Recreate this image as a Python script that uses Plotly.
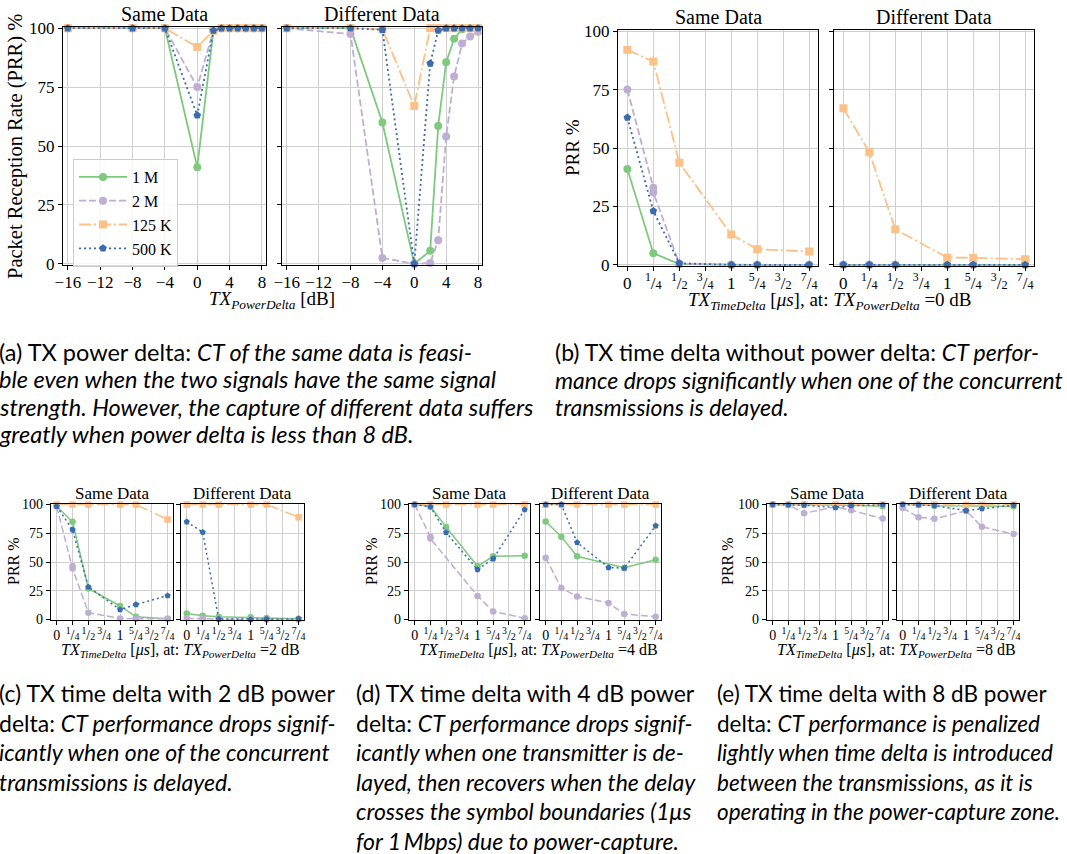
import plotly.graph_objects as go

W, H = 1067, 854

# ---------------- data ----------------
series_names = ["1 M", "2 M", "125 K", "500 K"]
colors = ["#7fc97f", "#beaed4", "#fdc086", "#386cb0"]
dashes = ["solid", "7px,3px", "12px,3px,2px,3px", "2px,3px"]
symbols = ["circle", "circle", "square", "pentagon"]

power_delta = [-16, -8, -4, 0, 2, 3, 4, 5, 6, 7, 8]
power_ticks = [-16, -12, -8, -4, 0, 4, 8]
power_ticktext = ["\u221216", "\u221212", "\u22128", "\u22124", "0", "4", "8"]

time_ticks = [0, 0.25, 0.5, 0.75, 1, 1.25, 1.5, 1.75]
time_fractions = [None, ("1", "4"), ("1", "2"), ("3", "4"), None, ("5", "4"), ("3", "2"), ("7", "4")]
time_plain = ["0", "", "", "", "1", "", "", ""]
prr_ticks = [0, 25, 50, 75, 100]

time_delta = [0, 0.25, 0.5, 1, 1.25, 1.75]
time_delta_2m = [0, 0.25, 0.25, 0.5, 1, 1.25, 1.75]
time_delta_2m_d = [0, 0.25, 0.25, 1, 1.25, 1.75]
time_delta_1m_d2 = [0, 0.25, 0.5, 1.25, 1.75]

# (a) power delta
a_same_1m = [100, 100, 100, 41, 99, 100, 100, 100, 100, 100, 100]
a_same_2m = [100, 100, 100, 75, 99, 100, 100, 100, 100, 100, 100]
a_same_125k = [100, 100, 100, 92, 99, 100, 100, 100, 100, 100, 100]
a_same_500k = [100, 100, 100, 63, 99, 100, 100, 100, 100, 100, 100]
a_diff_1m = [100, 100, 60, 0, 5.5, 58.5, 85.5, 95.5, 99.5, 100, 100]
a_diff_2m = [100, 97.5, 2.5, 0, 0.3, 10, 54, 79.5, 93.5, 96.5, 98.5]
a_diff_125k = [100, 100, 99.5, 67, 100, 100, 100, 100, 100, 100, 100]
a_diff_500k = [100, 100, 99.3, 0, 85, 99, 100, 100, 100, 100, 100]

# (b) time delta, 0 dB
b_same_1m = [41, 5, 0.3, 0, 0, 0]
b_same_2m = [75, 33, 31, 0.5, 0, 0, 0]
b_same_125k = [92, 87, 43.7, 13, 6.7, 5.7]
b_same_500k = [63, 23, 0.7, 0, 0, 0]
b_diff_1m = [0, 0, 0, 0, 0, 0]
b_diff_2m = [0, 0, 0, 0, 0, 0, 0]
b_diff_125k = [67, 48.2, 15.2, 3.1, 3, 2.4]
b_diff_500k = [0, 0, 0, 0, 0, 0]

# (c) time delta, 2 dB
c_same_1m = [98.5, 85, 27, 11.7, 2.3, 0.5]
c_same_2m = [98.5, 46.6, 44.3, 5.8, 0.9, 0.5, 0.5]
c_same_125k = [100, 100, 100, 100, 100, 87]
c_same_500k = [98.5, 78, 28.3, 8.5, 13, 20.7]
c_diff_1m = [5.2, 3.2, 2.3, 2, 1.2, 0.5]
c_diff_2m = [1, 0.5, 0.5, 0.3, 0, 0, 0]
c_diff_125k = [100, 100, 100, 100, 100, 89]
c_diff_500k = [85, 76, 0.3, 0, 0.3, 0.5]

# (d) time delta, 4 dB
d_same_1m = [100, 98.5, 80.4, 46.3, 55, 55.4]
d_same_2m = [100, 72, 70.4, 20.5, 7, 1]
d_same_125k = [100, 100, 100, 100, 100, 100]
d_same_500k = [100, 98, 75.7, 43.4, 52.8, 95.6]
d_diff_1m = [85.3, 72, 55, 45, 51.9]
d_diff_2m = [53.7, 27.3, 20, 14.4, 4.7, 2.3]
d_diff_125k = [100, 100, 100, 100, 100, 100]
d_diff_500k = [100, 100, 67, 45.2, 44.6, 81.5]

# (e) time delta, 8 dB
e_same_1m = [100, 100, 100, 99.5, 99.5, 98.5]
e_same_2m = [100, 100, 92.4, 98, 95, 87.8]
e_same_125k = [100, 100, 100, 100, 100, 100]
e_same_500k = [100, 99.7, 99.5, 97.4, 99, 99.7]
e_diff_1m = [100, 100, 99, 99, 99, 98.5]
e_diff_2m = [97, 89, 87.6, 94.5, 80.7, 74.3]
e_diff_125k = [100, 100, 100, 99.5, 100, 100]
e_diff_500k = [100, 99.7, 99, 94.8, 96.5, 99.4]

# ---------------- layout helpers ----------------
SERIF = "Liberation Serif"
SANS = "Lato"


def frac_text(num, den):
    return "<sup>%s</sup>/<span style='font-size:72%%'>%s</span>" % (num, den)


time_ticktext = [frac_text(*f) if f else s for f, s in zip(time_fractions, time_plain)]

# panel boxes in pixels: left, right, top, bottom
panels = [
    dict(box=(63, 266, 27, 265), kind="power", title="Same Data", big=True, ylab=True,
         x=[power_delta] * 4, y=[a_same_1m, a_same_2m, a_same_125k, a_same_500k]),
    dict(box=(282, 482, 27, 265), kind="power", title="Different Data", big=True, ylab=False,
         x=[power_delta] * 4, y=[a_diff_1m, a_diff_2m, a_diff_125k, a_diff_500k]),
    dict(box=(618, 818, 30, 266), kind="time", title="Same Data", big=True, ylab=True,
         x=[time_delta, time_delta_2m, time_delta, time_delta],
         y=[b_same_1m, b_same_2m, b_same_125k, b_same_500k]),
    dict(box=(834, 1034, 30, 266), kind="time", title="Different Data", big=True, ylab=False,
         x=[time_delta, time_delta_2m, time_delta, time_delta],
         y=[b_diff_1m, b_diff_2m, b_diff_125k, b_diff_500k]),
    dict(box=(51, 173, 504, 620), kind="time", title="Same Data", big=False, ylab=True,
         x=[time_delta, time_delta_2m, time_delta, time_delta],
         y=[c_same_1m, c_same_2m, c_same_125k, c_same_500k]),
    dict(box=(181, 304, 504, 620), kind="time", title="Different Data", big=False, ylab=False,
         x=[time_delta, time_delta_2m, time_delta, time_delta],
         y=[c_diff_1m, c_diff_2m, c_diff_125k, c_diff_500k]),
    dict(box=(409, 530, 504, 620), kind="time", title="Same Data", big=False, ylab=True,
         x=[time_delta, time_delta_2m_d, time_delta, time_delta],
         y=[d_same_1m, d_same_2m, d_same_125k, d_same_500k]),
    dict(box=(540, 661, 504, 620), kind="time", title="Different Data", big=False, ylab=False,
         x=[time_delta_1m_d2, time_delta, time_delta, time_delta],
         y=[d_diff_1m, d_diff_2m, d_diff_125k, d_diff_500k]),
    dict(box=(767, 888, 504, 620), kind="time", title="Same Data", big=False, ylab=True,
         x=[time_delta] * 4, y=[e_same_1m, e_same_2m, e_same_125k, e_same_500k]),
    dict(box=(897, 1019, 504, 620), kind="time", title="Different Data", big=False, ylab=False,
         x=[time_delta] * 4, y=[e_diff_1m, e_diff_2m, e_diff_125k, e_diff_500k]),
]

fig = go.Figure()
annotations = []
layout = dict(
    width=W, height=H, margin=dict(l=0, r=0, t=0, b=0, pad=0, autoexpand=False),
    autosize=False,
    paper_bgcolor="white", plot_bgcolor="white",
    font=dict(family=SERIF, color="black"),
)


def px_x(v):
    return v / W


def px_y(v):
    return 1 - v / H


for i, p in enumerate(panels):
    n = i + 1
    sfx = "" if n == 1 else str(n)
    l, r, t, b = p["box"]
    big = p["big"]
    tick_size = 17 if big else 14
    if p["kind"] == "power":
        xr = [-16.6, 8.5]
        xt = dict(tickvals=power_ticks, ticktext=power_ticktext)
    else:
        xr = [-0.09, 1.835]
        xt = dict(tickvals=time_ticks, ticktext=time_ticktext)
    layout["xaxis" + sfx] = dict(
        domain=[px_x(l), px_x(r)], anchor="y" + sfx, range=xr, tickmode="array", **xt,
        tickangle=0, ticklabelstandoff=-3 if big else -2,
        showgrid=True, gridcolor="#cfcfcf", gridwidth=1.4, zeroline=False,
        showline=True, mirror=True, linecolor="black", linewidth=1.2,
        ticks="outside", ticklen=4, tickcolor="black", tickwidth=1,
        tickfont=dict(family=SERIF, size=tick_size, color="black"),
        fixedrange=True, automargin=False,
    )
    layout["yaxis" + sfx] = dict(
        domain=[px_y(b), px_y(t)], anchor="x" + sfx, range=[-0.5, 100.5],
        tickmode="array", tickvals=prr_ticks,
        showticklabels=p["ylab"],
        showgrid=True, gridcolor="#cfcfcf", gridwidth=1.4, zeroline=False,
        showline=True, mirror=True, linecolor="black", linewidth=1.2,
        ticks="outside", ticklen=4, tickcolor="black", tickwidth=1,
        tickfont=dict(family=SERIF, size=tick_size, color="black"),
        fixedrange=True, automargin=False,
    )
    msize = 8 if big else 6.5
    lw = 1.8 if big else 1.5
    for k in range(4):
        fig.add_trace(go.Scatter(
            x=p["x"][k], y=p["y"][k], mode="lines+markers",
            name=series_names[k], showlegend=(n == 1),
            line=dict(color=colors[k], width=lw, dash=dashes[k]),
            marker=dict(color=colors[k], size=msize, symbol=symbols[k], line=dict(width=0)),
            xaxis="x" + sfx, yaxis="y" + sfx, cliponaxis=False,
        ))
    annotations.append(dict(
        x=px_x((l + r) / 2), y=px_y(t + (0 if big else 1)), xref="paper", yref="paper",
        text=p["title"], showarrow=False, xanchor="center", yanchor="bottom",
        font=dict(family=SERIF, size=20 if big else 17, color="black"),
    ))

# axis labels
xlab_power = "<i>TX</i><sub><i>PowerDelta</i></sub> [dB]"


def xlab_time(db):
    return ("<i>TX</i><sub><i>TimeDelta</i></sub> [<i>\u03bcs</i>], at: "
            "<i>TX</i><sub><i>PowerDelta</i></sub> =%d dB" % db)


axis_labels = [
    (272, 300, xlab_power, 19, 0),
    (830, 301, xlab_time(0), 19, 0),
    (180, 650, xlab_time(2), 16, 0),
    (538, 650, xlab_time(4), 16, 0),
    (896, 650, xlab_time(8), 16, 0),
    (16, 147, "Packet Reception Rate (PRR) %", 20.5, -90),
    (573, 148, "PRR %", 19, -90),
    (13, 561, "PRR %", 16, -90),
    (371, 561, "PRR %", 16, -90),
    (727, 561, "PRR %", 16, -90),
]
for x, y, txt, fs, ang in axis_labels:
    annotations.append(dict(
        x=px_x(x), y=px_y(y), xref="paper", yref="paper", text=txt, showarrow=False,
        xanchor="center", yanchor="middle", textangle=ang,
        font=dict(family=SERIF, size=fs, color="black"),
    ))

# captions (one annotation per line)
captions = [
    (-3, [352, 379, 407, 434], 23.5, [
        "(a) TX power delta: <i>CT of the same data is feasi-</i>",
        "<i>ble even when the two signals have the same signal</i>",
        "<i>strength. However, the capture of different data suffers</i>",
        "<i>greatly when power delta is less than 8 dB.</i>",
    ]),
    (553, [352, 380, 407], 23, [
        "(b) TX time delta without power delta: <i>CT perfor-</i>",
        "<i>mance drops significantly when one of the concurrent</i>",
        "<i>transmissions is delayed.</i>",
    ]),
    (-3, [693, 723, 752, 782], 23, [
        "(c) TX time delta with 2 dB power",
        "delta: <i>CT performance drops signif-</i>",
        "<i>icantly when one of the concurrent</i>",
        "<i>transmissions is delayed.</i>",
    ]),
    (354, [693, 723, 752, 782, 811, 841], 23, [
        "(d) TX time delta with 4 dB power",
        "delta: <i>CT performance drops signif-</i>",
        "<i>icantly when one transmitter is de-</i>",
        "<i>layed, then recovers when the delay</i>",
        "<i>crosses the symbol boundaries (1\u03bcs</i>",
        "<i>for 1\u2009Mbps) due to power-capture.</i>",
    ]),
    (715, [693, 723, 752, 782, 811], 22.5, [
        "(e) TX time delta with 8 dB power",
        "delta: <i>CT performance is penalized</i>",
        "<i>lightly when time delta is introduced</i>",
        "<i>between the transmissions, as it is</i>",
        "<i>operating in the power-capture zone.</i>",
    ]),
]
for x0, ys, fs, lines in captions:
    for yy, line in zip(ys, lines):
        annotations.append(dict(
            x=px_x(x0), y=px_y(yy), xref="paper", yref="paper", text=line, showarrow=False,
            xanchor="left", yanchor="middle",
            font=dict(family=SANS, size=fs, color="black"),
        ))

layout["annotations"] = annotations
layout["legend"] = dict(
    x=px_x(73), y=px_y(159), xanchor="left", yanchor="top",
    bgcolor="rgba(255,255,255,0.85)", bordercolor="#cccccc", borderwidth=1,
    font=dict(family=SERIF, size=16, color="black"), tracegroupgap=0,
    itemwidth=48,
)
layout["showlegend"] = True
fig.update_layout(**layout)
fig.write_html(
    "out.html",
    config={"displayModeBar": False},
    post_script="document.body.style.margin='0';document.body.style.overflow='hidden';",
)
